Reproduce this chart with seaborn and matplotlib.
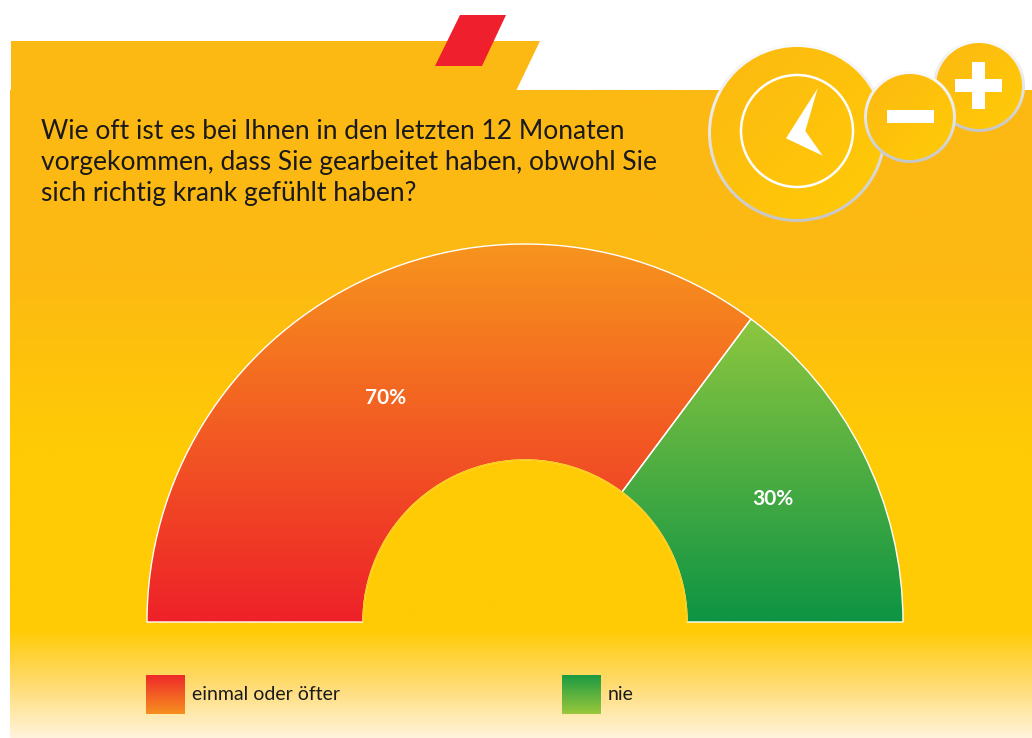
import numpy as np
import matplotlib
matplotlib.use('Agg')
import matplotlib.pyplot as plt
from matplotlib.patches import Wedge, Polygon, Circle, Rectangle, Arc
import seaborn as sns

# ================= DATA =================
categories = ['einmal oder öfter', 'nie']
shares = [70.4, 29.6]
share_labels = ['70%', '30%']
question = ('Wie oft ist es bei Ihnen in den letzten 12 Monaten\n'
            'vorgekommen, dass Sie gearbeitet haben, obwohl Sie\n'
            'sich richtig krank gefühlt haben?')

# ================= STYLE =================
sns.set_theme(style='white')
plt.rcParams['font.family'] = ['Lato', 'DejaVu Sans']

YELLOW_TOP = '#fdb913'
YELLOW_MID = '#ffcb05'
FADE = '#fff4dc'

fig = plt.figure(figsize=(10.32, 7.38), dpi=100)
ax = fig.add_axes([0, 0, 1, 1])


def gradient(x0, x1, y0, y1, colors, clip=None, diagonal=False, z=1):
    """Paint a blended gradient in a box, optionally clipped to a patch."""
    pal = np.array(sns.blend_palette(colors, n_colors=256))[:, :3]
    if diagonal:
        i, j = np.mgrid[0:128, 0:128]
        img = pal[i + j]
    else:
        img = pal[:, None, :]
    im = ax.imshow(img, extent=(x0, x1, y1, y0), aspect='auto', zorder=z, interpolation='bilinear')
    if clip is not None:
        clip.set_transform(ax.transData)
        im.set_clip_path(clip)
    return im


# --- background ---
ax.add_patch(Polygon([(11, 41), (540, 41), (516, 91), (11, 91)], fc=YELLOW_TOP, ec='none', zorder=1))
gradient(10, 1032, 90, 630, [YELLOW_TOP, YELLOW_TOP, YELLOW_MID, YELLOW_MID])
gradient(10, 1032, 630, 738, [YELLOW_MID, '#ffdb70', FADE])
ax.add_patch(Polygon([(460, 15), (506, 15), (482, 66), (435, 66)], fc='#ef1f2d', ec='none', zorder=2))


# --- icons ---
def badge(cx, cy, r, z):
    rim = Circle((cx, cy), r + 3)
    gradient(cx - r - 3, cx + r + 3, cy - r - 3, cy + r + 3, ['#fbfbfb', '#e6e6e6', '#c6c6c6'], clip=rim, z=z)
    face = Circle((cx, cy), r)
    gradient(cx - r, cx + r, cy - r, cy + r, [YELLOW_TOP, YELLOW_MID], clip=face, diagonal=True, z=z + 0.1)


badge(797, 133, 86, 3)
ax.add_patch(Circle((797, 131), 56, fc='none', ec='white', lw=1.8, zorder=3.2))
ax.add_patch(Polygon([(817.7, 88.3), (805.3, 131), (822.7, 155.7), (786, 138.3)], fc='white', ec='none', zorder=3.2))
badge(979, 86, 43, 4)
ax.add_patch(Rectangle((955, 79), 47, 13, fc='white', ec='none', zorder=4.2))
ax.add_patch(Rectangle((972, 62), 13, 47, fc='white', ec='none', zorder=4.2))
badge(910, 117, 43, 5)
ax.add_patch(Rectangle((887, 110), 47, 13, fc='white', ec='none', zorder=5.2))

# --- question ---
ax.text(41, 119, question, fontsize=19, color='#1a1a1a', va='top', ha='left', linespacing=1.3, zorder=6)

# --- half doughnut ---
center = (525, 622)
r_out, r_in = 378, 162
wedge_colors = [['#f7941d', '#ee2129'], ['#8dc63f', '#0d9444']]
wedge_tops = [245, 320]
label_xy = [(386, 398), (773, 499)]

# the y axis runs downwards, so the upper half spans 180..360 degrees
start = 180
for i, share in enumerate(shares):
    sweep = 180 * share / sum(shares)
    w = Wedge(center, r_out, start, start + sweep, width=r_out - r_in)
    gradient(center[0] - r_out, center[0] + r_out, wedge_tops[i], center[1], wedge_colors[i], clip=w, z=7)
    ax.add_patch(Wedge(center, r_out, start, start + sweep, width=r_out - r_in,
                       fc='none', ec='white', lw=1.0, zorder=8))
    ax.text(label_xy[i][0], label_xy[i][1], share_labels[i], color='white', fontsize=15, fontweight='bold',
            ha='center', va='center', zorder=9)
    start += sweep
# the inner arc carries no white outline in the original
ax.add_patch(Arc(center, 2 * r_in, 2 * r_in, theta1=180, theta2=360, ec=YELLOW_MID, lw=1.1, zorder=8.5))

# --- legend ---
legend_x = [146, 562]
legend_colors = [['#ee2a2a', '#f7901f'], ['#1c9a42', '#9ac83c']]
for x, name, cols in zip(legend_x, categories, legend_colors):
    gradient(x, x + 39, 675, 714, cols, z=7)
    ax.text(x + 46, 694, name, color='#1a1a1a', fontsize=14, ha='left', va='center', zorder=9)

ax.set_xlim(0, 1032)
ax.set_ylim(738, 0)
ax.axis('off')
fig.savefig('out.png', dpi=100, facecolor='white')
